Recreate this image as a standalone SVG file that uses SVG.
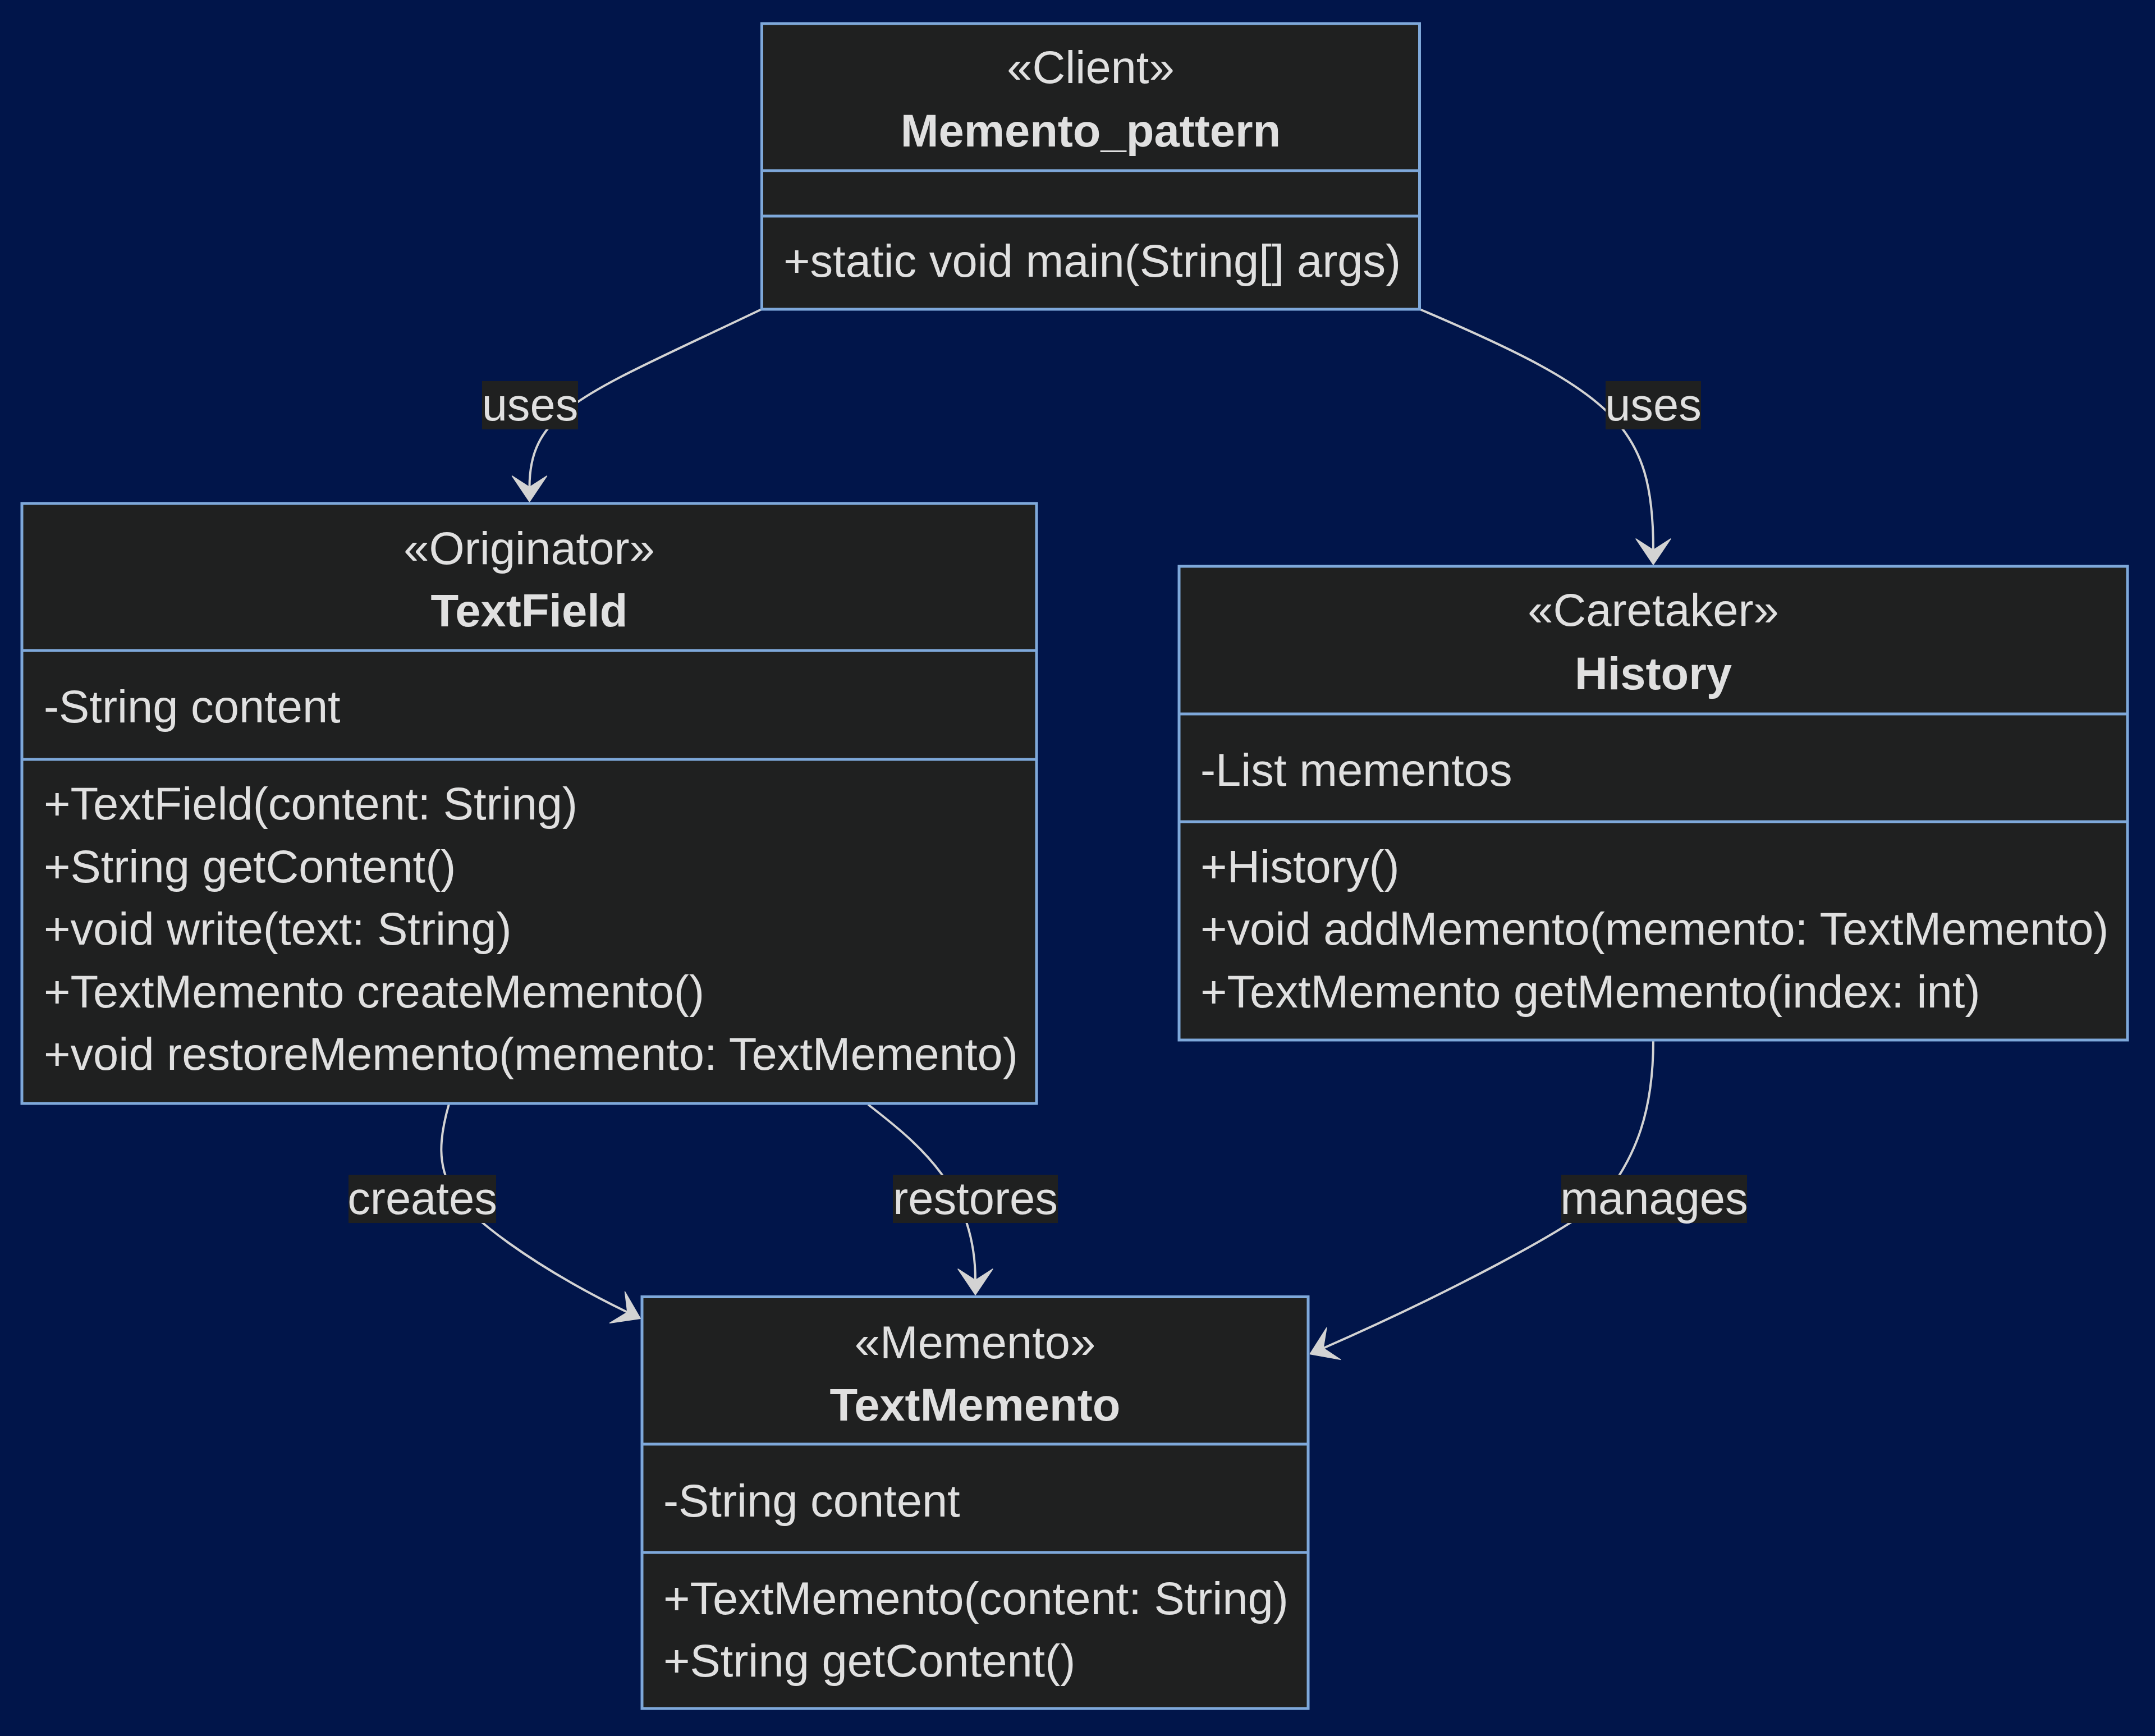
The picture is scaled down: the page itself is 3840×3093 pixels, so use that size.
<svg xmlns="http://www.w3.org/2000/svg" width="3840" height="3093" viewBox="0 0 3840 3093">
  <style>
    .box { fill: #1f2020; stroke: #7ea8da; stroke-width: 5; }
    .div { stroke: #7ea8da; stroke-width: 5; fill: none; }
    .txt { font-family: "Liberation Sans", Arial, sans-serif; font-size: 81.3px; fill: #e0e0e0; }
    .ctr { text-anchor: middle; }
    .bold { font-weight: bold; }
    .edge { fill: none; stroke: #d3d3d3; stroke-width: 4; marker-end: url(#arrow); }
    .lbl { fill: #1f2020; }
  </style>
  <defs>
    <!-- barbed arrowhead; origin sits at the notch where the line ends -->
    <marker id="arrow" markerUnits="userSpaceOnUse" orient="auto" refX="0" refY="0"
            markerWidth="60" markerHeight="70" overflow="visible">
      <polygon points="26,0 -20,-31 0,0 -20,31" fill="#d3d3d3" stroke="#d3d3d3" stroke-width="1.5" stroke-linejoin="round"/>
    </marker>
  </defs>

  <rect width="3840" height="3093" fill="#01154a"/>

  <!-- relations -->
  <g id="connectors">
    <path id="e-uses-textfield" class="edge" d="M1357,551 C1042,702 943.5,730 943.5,868"/>
    <path id="e-uses-history" class="edge" d="M2530,551 C2880,700 2946,760 2946,980"/>
    <path id="e-creates" class="edge" d="M800,1967 C782,2030 780,2075 805,2120 C830,2165 947,2255 1118,2338"/>
    <path id="e-restores" class="edge" d="M1547,1968 C1640,2040 1738,2120 1738,2281"/>
    <path id="e-manages" class="edge" d="M2946,1854 C2946,1980 2915,2060 2860,2130 C2820,2181 2559,2314 2358,2402"/>

    <g id="edge-labels">
      <rect class="lbl" x="859" y="679" width="171" height="86"/>
      <text class="txt ctr" x="944.5" y="749">uses</text>
      <rect class="lbl" x="2861" y="679" width="170" height="86"/>
      <text class="txt ctr" x="2946" y="749">uses</text>
      <rect class="lbl" x="621" y="2093" width="263" height="86"/>
      <text class="txt ctr" x="752.5" y="2163">creates</text>
      <rect class="lbl" x="1591" y="2093" width="294" height="86"/>
      <text class="txt ctr" x="1738" y="2163">restores</text>
      <rect class="lbl" x="2782" y="2093" width="331" height="86"/>
      <text class="txt ctr" x="2947.5" y="2163">manages</text>
    </g>
  </g>

  <!-- Client -->
  <g id="node-memento-pattern">
    <rect class="box" x="1357.5" y="42" width="1172" height="509"/>
    <line class="div" x1="1357.5" y1="304" x2="2529.5" y2="304"/>
    <line class="div" x1="1357.5" y1="385" x2="2529.5" y2="385"/>
    <text class="txt ctr" x="1943.5" y="148">«Client»</text>
    <text class="txt ctr bold" x="1943.5" y="261">Memento_pattern</text>
    <text class="txt" x="1396" y="493">+static void main(String[] args)</text>
  </g>

  <!-- Originator -->
  <g id="node-textfield">
    <rect class="box" x="39" y="897" width="1808" height="1069"/>
    <line class="div" x1="39" y1="1159" x2="1847" y2="1159"/>
    <line class="div" x1="39" y1="1353" x2="1847" y2="1353"/>
    <text class="txt ctr" x="943" y="1005">«Originator»</text>
    <text class="txt ctr bold" x="943" y="1116">TextField</text>
    <text class="txt" x="78" y="1287">-String content</text>
    <text class="txt" x="78" y="1460">+TextField(content: String)</text>
    <text class="txt" x="78" y="1571.5">+String getContent()</text>
    <text class="txt" x="78" y="1683">+void write(text: String)</text>
    <text class="txt" x="78" y="1794.5">+TextMemento createMemento()</text>
    <text class="txt" x="78" y="1906">+void restoreMemento(memento: TextMemento)</text>
  </g>

  <!-- Caretaker -->
  <g id="node-history">
    <rect class="box" x="2101" y="1009" width="1690" height="844"/>
    <line class="div" x1="2101" y1="1272" x2="3791" y2="1272"/>
    <line class="div" x1="2101" y1="1464" x2="3791" y2="1464"/>
    <text class="txt ctr" x="2946" y="1115">«Caretaker»</text>
    <text class="txt ctr bold" x="2946" y="1228">History</text>
    <text class="txt" x="2139" y="1400">-List mementos</text>
    <text class="txt" x="2139" y="1572">+History()</text>
    <text class="txt" x="2139" y="1683">+void addMemento(memento: TextMemento)</text>
    <text class="txt" x="2139" y="1795">+TextMemento getMemento(index: int)</text>
  </g>

  <!-- Memento -->
  <g id="node-textmemento">
    <rect class="box" x="1144" y="2310.5" width="1187" height="733.5"/>
    <line class="div" x1="1144" y1="2573" x2="2331" y2="2573"/>
    <line class="div" x1="1144" y1="2766" x2="2331" y2="2766"/>
    <text class="txt ctr" x="1737.5" y="2420">«Memento»</text>
    <text class="txt ctr bold" x="1737.5" y="2531">TextMemento</text>
    <text class="txt" x="1182" y="2702">-String content</text>
    <text class="txt" x="1182" y="2876">+TextMemento(content: String)</text>
    <text class="txt" x="1182" y="2987">+String getContent()</text>
  </g>
</svg>
